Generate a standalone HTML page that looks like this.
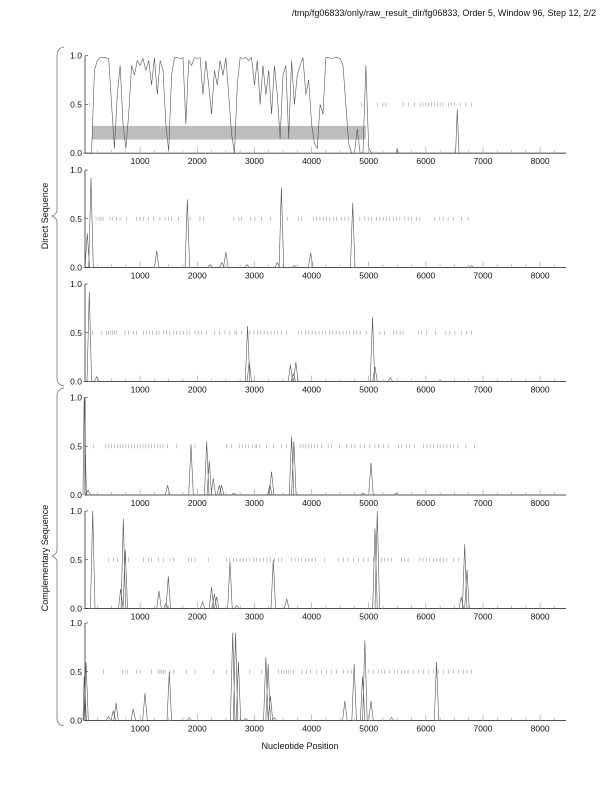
<!DOCTYPE html>
<html><head><meta charset="utf-8"><style>
body{margin:0;background:#fff}
svg{display:block;font-family:"Liberation Sans",sans-serif}
</style></head><body>
<svg id="c" width="612" height="792" xmlns="http://www.w3.org/2000/svg">
<text x="596" y="16" font-size="9" text-anchor="end" fill="#111">/tmp/fg06833/only/raw_result_dir/fg06833, Order 5, Window 96, Step 12, 2/2</text>
<text x="300" y="749" font-size="9" text-anchor="middle" fill="#111">Nucleotide Position</text>
<text transform="translate(48,216) rotate(-90)" font-size="9" text-anchor="middle" fill="#111">Direct Sequence</text>
<text transform="translate(48,558) rotate(-90)" font-size="9" text-anchor="middle" fill="#111">Complementary Sequence</text>
<path d="M64,47 Q57,48 57,56 L57,210 Q57,214 52,216 Q57,218 57,222 L57,378 Q57,385 64,386" fill="none" stroke="#777" stroke-width="0.8"/>
<path d="M64,388 Q57,389 57,396 L57,550 Q57,554 52,556 Q57,558 57,562 L57,718 Q57,725 64,726" fill="none" stroke="#777" stroke-width="0.8"/>
</svg>
<script>
const xTicks=[1000,2000,3000,4000,5000,6000,7000,8000];
const yTicks=[0,0.5,1];
const p1Pos=[0,50,100,150,200,250,300,350,400,450,500,550,600,650,700,750,800,850,900,950,1000,1050,1100,1150,1200,1250,1300,1350,1400,1450,1500,1550,1600,1650,1700,1750,1800,1850,1900,1950,2000,2050,2100,2150,2200,2250,2300,2350,2400,2450,2500,2550,2600,2650,2700,2750,2800,2850,2900,2950,3000,3050,3100,3150,3200,3250,3300,3350,3400,3450,3500,3550,3600,3650,3700,3750,3800,3850,3900,3950,4000,4050,4100,4150,4200,4250,4300,4350,4400,4450,4500,4550,4600,4650,4700,4750,4800,4850,4900,4950,5000,5050,5480,5500,5520,6520,6550,6580,8450];
const p1Val=[0,0,0,0,0.85,0.95,0.98,0.98,0.98,0.97,0.5,0.05,0.6,0.9,0.3,0.05,0.4,0.9,0.8,0.95,0.9,0.97,0.85,0.95,0.7,0.98,0.6,0.95,0.85,0.3,0.02,0.8,0.98,0.98,0.97,0.98,0.3,0.95,0.9,0.98,0.97,0.98,0.6,0.95,0.7,0.4,0.85,0.7,0.95,0.8,0.98,0.6,0.2,0,0.7,0.98,0.97,0.98,0.95,0.98,0.7,0.95,0.5,0.9,0.6,0.85,0.4,0.9,0.6,0.15,0.8,0.9,0.15,0.95,0.5,0.8,0.9,0.98,0.6,0.75,0.3,0.1,0.05,0.5,0.4,0.98,0.98,0.97,0.98,0.98,0.97,0.9,0.5,0.1,0,0,0.25,0,0,0.9,0.05,0,0,0.05,0,0,0.45,0,0];
const p1Orf=[120,4870,5150,5250,5300,5600,5700,5800,5900,5950,6000,6050,6100,6150,6200,6250,6300,6400,6450,6500,6600,6700,6800];
const p2PeakPos=[75,140,1290,1826,2220,2430,2500,2870,3400,3472,3700,3985,4720,6800];
const p2PeakVal=[0.35,0.92,0.17,0.7,0.03,0.05,0.16,0.03,0.05,0.82,0.02,0.15,0.66,0.02];
const p2Orf=[228,280,315,350,473,520,590,648,765,940,998,1056,1143,1231,1347,1435,1493,1551,1668,1872,2047,2105,2641,2729,2775,2933,3009,3125,3283,3574,3767,3825,4029,4087,4146,4204,4262,4320,4379,4437,4524,4583,4641,4845,4933,4991,5049,5137,5195,5253,5312,5370,5428,5487,5545,5632,5690,5749,5836,5895,6157,6244,6302,6390,6477,6623,6740];
const p3PeakPos=[110,240,2880,2910,3630,3680,3725,5067,5110,5380,6250];
const p3PeakVal=[0.92,0.05,0.57,0.2,0.17,0.08,0.2,0.66,0.15,0.04,0.01];
const p3Orf=[170,330,415,450,485,520,555,590,735,795,880,940,1055,1110,1165,1220,1280,1330,1405,1460,1520,1580,1640,1700,1760,1820,1870,1960,2020,2080,2160,2300,2390,2485,2570,2660,2690,2775,2920,2990,3050,3110,3170,3230,3290,3350,3410,3470,3560,3770,3830,3890,3950,4010,4070,4130,4190,4250,4310,4370,4430,4490,4550,4610,4670,4730,4790,4850,4960,5195,5280,5430,5490,5550,5600,5870,5920,6010,6170,6350,6420,6510,6620,6710,6800];
const p4PeakPos=[20,90,1480,1890,2165,2210,2280,2385,2425,2640,3270,3300,3650,3690,4900,5040,5480];
const p4PeakVal=[1.0,0.05,0.1,0.52,0.55,0.35,0.17,0.1,0.1,0.02,0.1,0.24,0.6,0.55,0.02,0.33,0.02];
const p4Orf=[180,400,450,500,550,600,650,700,750,800,850,900,950,1000,1050,1100,1150,1200,1250,1300,1350,1400,1480,1640,1960,2510,2600,2735,2790,2850,2900,2960,3010,3040,3090,3215,3330,3475,3560,3800,3850,3900,3950,4000,4050,4100,4170,4290,4350,4490,4610,4700,4760,4850,4930,5020,5110,5170,5260,5340,5520,5580,5660,5720,5800,5960,6020,6080,6140,6200,6250,6310,6370,6430,6490,6560,6700,6850];
const p5PeakPos=[170,660,706,740,1330,1450,1493,2093,2250,2300,2340,2572,2690,3330,3565,5110,5150,6620,6680,6720];
const p5PeakVal=[1.0,0.2,0.92,0.6,0.18,0.05,0.33,0.07,0.22,0.15,0.12,0.48,0.03,0.5,0.1,0.82,1.0,0.12,0.66,0.4];
const p5Orf=[443,530,600,793,1056,1143,1200,1318,1405,1522,1580,1843,1900,1960,2192,2513,2570,2630,2690,2750,2810,2860,2920,2980,3040,3100,3160,3220,3280,3350,3420,3480,3650,3710,3770,3830,3890,3950,4010,4070,4230,4465,4555,4640,4730,4820,4905,4990,5080,5225,5280,5340,5400,5575,5630,5690,5895,5950,6010,6070,6130,6190,6250,6310,6370,6480,6570];
const p6PeakPos=[20,53,444,530,578,880,1085,1510,1860,2620,2670,2720,2850,3200,3240,3280,3350,4583,4745,4893,4933,5040,5400,6187];
const p6PeakVal=[0.45,0.6,0.04,0.1,0.18,0.12,0.28,0.5,0.03,0.9,0.9,0.6,0.02,0.65,0.58,0.25,0.03,0.2,0.58,0.45,0.82,0.2,0.03,0.6];
const p6Orf=[356,694,735,776,940,998,1200,1318,1347,1376,1405,1435,1522,1580,1815,1960,2280,2513,2920,3125,3420,3470,3520,3560,3600,3640,3680,3830,3910,3980,4090,4170,4260,4350,4440,4560,4640,4700,4990,5080,5165,5225,5280,5370,5450,5510,5570,5630,5690,5780,5870,5960,6050,6130,6220,6310,6400,6480,6570,6660,6720,6800];

const NS='http://www.w3.org/2000/svg';
const svg=document.getElementById('c');
const X0=83,XS=0.05714,XL=85,XR=566;
const tops=[55.7,170,284,397.5,511,623];
const H=97.5;
const xs=v=>X0+v*XS;
function mk(tag,attrs,parent){const e=document.createElementNS(NS,tag);for(const k in attrs)e.setAttribute(k,attrs[k]);(parent||svg).appendChild(e);return e;}
function peaksToSeries(pos,val){
  const pts=[[0,0]];
  const idx=pos.map((p,i)=>i).sort((a,b)=>pos[a]-pos[b]);
  idx.forEach(i=>{pts.push([Math.max(0,pos[i]-40),0]);pts.push([pos[i],val[i]]);pts.push([pos[i]+40,0]);});
  pts.push([8450,0]);return pts;
}
const series=[
 p1Pos.map((p,i)=>[p,p1Val[i]]),
 peaksToSeries(p2PeakPos,p2PeakVal),
 peaksToSeries(p3PeakPos,p3PeakVal),
 peaksToSeries(p4PeakPos,p4PeakVal),
 peaksToSeries(p5PeakPos,p5PeakVal),
 peaksToSeries(p6PeakPos,p6PeakVal)];
const orfs=[p1Orf,p2Orf,p3Orf,p4Orf,p5Orf,p6Orf];
tops.forEach((top,k)=>{
  const bot=top+H;const ys=v=>bot-v*H;
  const g=mk('g',{});
  
  
  if(k===0){
    const band=mk('rect',{x:xs(160),y:ys(0.28),width:xs(4950)-xs(160),height:ys(0.14)-ys(0.28),fill:'#bdbdbd'},g);
    
    
  }
  orfs[k].forEach(p=>{
    const t=mk('line',{x1:xs(p),x2:xs(p),y1:ys(0.5)-2,y2:ys(0.5)+2,stroke:'#999','stroke-width':0.6},g);
    
    
  });
  const d=series[k].map((pt,i)=>(i?'L':'M')+xs(pt[0]).toFixed(2)+','+ys(pt[1]).toFixed(2)).join('');
  const ln=mk('path',{d:d,fill:'none',stroke:'#555','stroke-width':0.6},g);
  
  
  const ax=mk('path',{d:`M${XL},${top}L${XL},${bot}L${XR},${bot}`,fill:'none',stroke:'#333','stroke-width':0.8},g);
  
  
  for(let v=250;v<8500;v+=250){
    const major=v%1000===0;
    mk('line',{x1:xs(v),x2:xs(v),y1:bot,y2:bot-(major?6:3),stroke:'#999','stroke-width':0.6},g);
  }
  xTicks.forEach(v=>{
    const t=mk('text',{x:xs(v),y:bot+11,'font-size':8.5,'text-anchor':'middle',fill:'#111'},g);
    t.textContent=v;
    
    
  });
  yTicks.forEach(v=>{
    mk('line',{x1:XL,x2:XL+3,y1:ys(v),y2:ys(v),stroke:'#333','stroke-width':0.6},g);
    const t=mk('text',{x:XL-3,y:ys(v)+3,'font-size':8.5,'text-anchor':'end',fill:'#111'},g);
    t.textContent=v.toFixed(1);
    
    
  });
});
</script>
</body></html>
